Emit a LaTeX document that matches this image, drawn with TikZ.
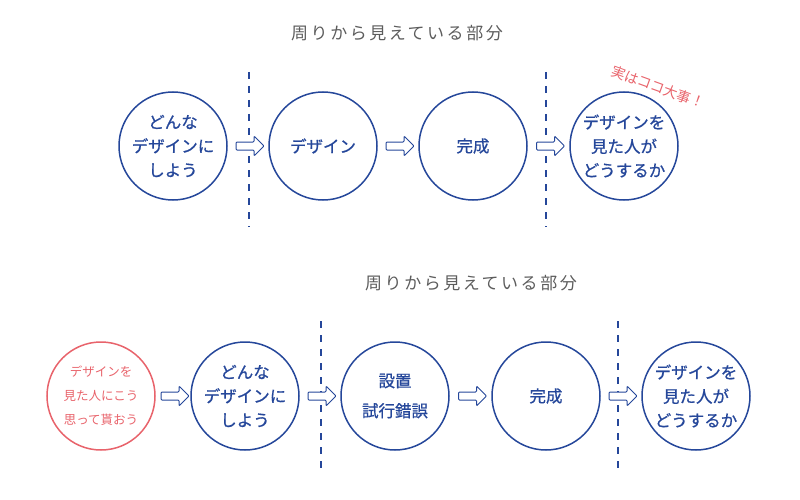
\documentclass[tikz,border=0pt]{standalone}
\usepackage{fontspec}
\setmainfont{Noto Sans CJK JP}[BoldFont=Noto Sans CJK JP,BoldFeatures={FakeBold=0.8}]
\usetikzlibrary{shapes.arrows,calc}
\definecolor{navy}{HTML}{25479A}
\definecolor{coral}{HTML}{E8636B}
\definecolor{ash}{HTML}{5C5C5C}
\begin{document}
\begin{tikzpicture}[x=1pt,y=-1pt,
  stage/.style={circle,draw=navy,line width=1.5pt,minimum size=108pt,inner sep=0pt,
    align=center,text=navy,font=\fontsize{16.5}{24}\selectfont\bfseries},
  wish/.style={stage,draw=coral,text=coral,font=\fontsize{12.5}{24}\selectfont},
  seen/.style={text=ash,font=\fontsize{17}{20}\selectfont\addfontfeatures{LetterSpace=15}},
  border/.style={navy,line width=1.5pt,dash pattern=on 7pt off 7pt},
  fwd/.style={single arrow,draw=navy,fill=white,line width=1pt,inner sep=0pt,
    inner ysep=3.5pt,minimum height=28pt,single arrow head extend=6pt,rounded corners=1pt}]
\useasboundingbox (0,0) rectangle (800,500);
\node[seen] (vis1) at (397,33) {周りから見えている部分};
\node (s1) [stage] at (173,146) {どんな\\デザインに\\しよう};
\node (s2) [stage] at (323,146) {デザイン};
\node (s3) [stage] at (473,146) {完成};
\node (s4) [stage] at (624,146) {デザインを\\見た人が\\どうするか};
\node (key) [text=coral,rotate=-20,font=\fontsize{14}{16}\selectfont] at (658,87) {実はココ大事！};
\coordinate (d1t) at (249,72);
\coordinate (d1b) at (249,227);
\coordinate (d2t) at (546,72);
\coordinate (d2b) at (546,227);
\draw[border] (d1t) -- (d1b);
\draw[border] (d2t) -- (d2b);
\node[fwd] (a1) at ($(s1)!0.5!(s2)$) {};
\node[fwd] (a2) at ($(s2)!0.5!(s3)$) {};
\node[fwd] (a3) at ($(s3)!0.5!(s4)$) {};

\node[seen] (vis2) at (471,283) {周りから見えている部分};
\node (t1) [wish] at (101,396) {デザインを\\見た人にこう\\思って貰おう};
\node (t2) [stage] at (245,396) {どんな\\デザインに\\しよう};
\node (t3) [stage,font=\fontsize{16.5}{30}\selectfont\bfseries] at (395,396) {設置\\試行錯誤};
\node (t4) [stage] at (546,396) {完成};
\node (t5) [stage] at (696,396) {デザインを\\見た人が\\どうするか};
\coordinate (e1t) at (321,321);
\coordinate (e1b) at (321,475);
\coordinate (e2t) at (618,321);
\coordinate (e2b) at (618,475);
\draw[border] (e1t) -- (e1b);
\draw[border] (e2t) -- (e2b);
\node[fwd] (b1) at ($(t1)!0.5!(t2)$) {};
\node[fwd] (b2) at ($(t2)!0.5!(t3)$) {};
\node[fwd] (b3) at ($(t3)!0.5!(t4)$) {};
\node[fwd] (b4) at ($(t4)!0.5!(t5)$) {};
\end{tikzpicture}
\end{document}
